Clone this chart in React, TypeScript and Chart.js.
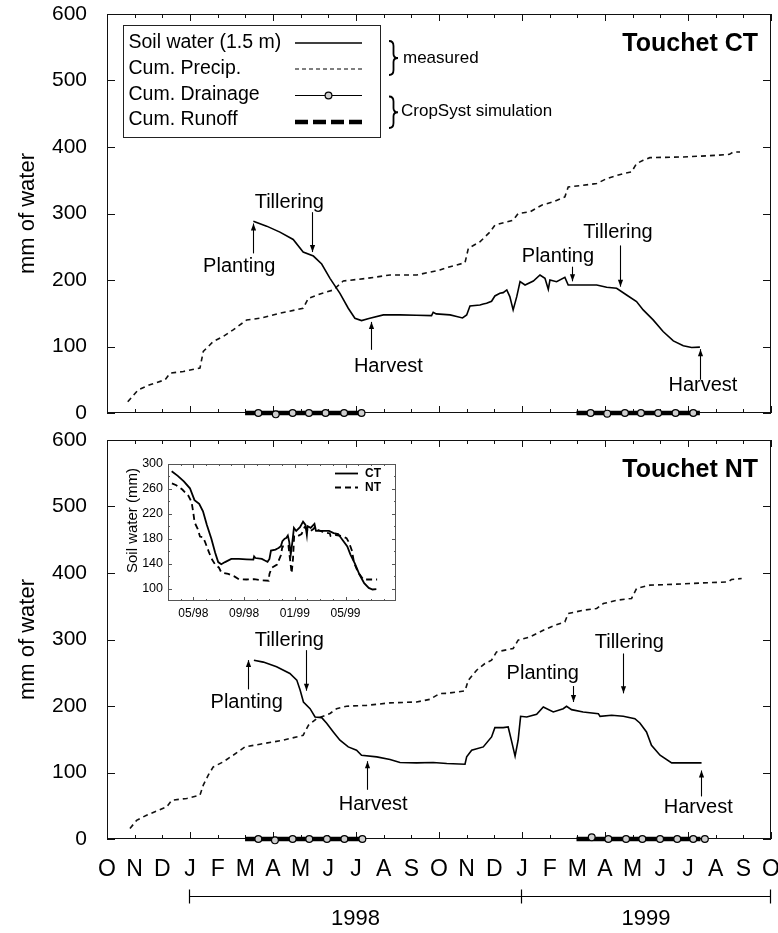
import React, { useEffect, useRef } from 'react';
import { Chart, registerables } from 'chart.js';

Chart.register(...registerables);

const FONT = '"Liberation Sans", Arial, Helvetica, sans-serif';
const W = 778;

// x values are months since 1 October 1997
const monthLetters = ['O', 'N', 'D', 'J', 'F', 'M', 'A', 'M', 'J', 'J', 'A', 'S', 'O', 'N', 'D', 'J', 'F', 'M', 'A', 'M', 'J', 'J', 'A', 'S', 'O'];
const yearLabels = ['1998', '1999'];
const yearStartMonths = [3, 15, 24];
const mainYTicks = [0, 100, 200, 300, 400, 500, 600];

// ---- Touchet CT ----
const ctSoilMonths = [5.29, 5.77, 6.25, 6.73, 7.09, 7.46, 7.76, 8.06, 8.42, 8.72, 8.96, 9.2, 9.5, 9.99, 10.59, 11.19, 11.73, 11.79, 11.9, 12.4, 12.64, 12.85, 13.0, 13.12, 13.48, 13.6, 13.72, 13.9, 14.02, 14.2, 14.32, 14.45, 14.56, 14.68, 14.81, 14.93, 15.11, 15.41, 15.65, 15.83, 15.95, 16.01, 16.25, 16.55, 16.67, 16.97, 17.7, 18.06, 18.42, 18.78, 19.14, 19.38, 19.74, 20.1, 20.47, 20.83, 21.13, 21.43];
const ctSoilValues = [288.5, 281, 272, 261, 242, 236, 224, 202.5, 180, 157.5, 142.5, 139, 142.5, 147.5, 147.5, 147, 146.5, 151.5, 149, 147.5, 145, 143, 147.5, 161, 162.5, 164, 165, 168, 176, 180, 181, 185, 175, 155, 175, 197.5, 192.5, 198.5, 207.5, 202.5, 186, 200, 197.5, 204, 192.5, 192.5, 192.5, 189, 187.5, 177.5, 167.5, 155, 140, 122.5, 108.5, 101, 98.5, 99];
const ctPrecipMonths = [0.75, 1.13, 1.55, 2.1, 2.28, 2.76, 3.36, 3.48, 3.84, 4.2, 4.56, 5.05, 5.53, 6.25, 7.09, 7.28, 7.7, 8.18, 8.54, 9.39, 10.23, 11.19, 12.03, 12.4, 12.94, 13.06, 13.48, 13.84, 14.02, 14.68, 14.86, 15.29, 15.71, 16.13, 16.55, 16.67, 17.21, 17.7, 18.06, 18.66, 18.96, 19.14, 19.38, 19.62, 20.83, 22.03, 22.5, 22.64, 22.88];
const ctPrecipValues = [17, 35, 42.5, 50, 60, 62.5, 67.5, 92.5, 107.5, 115, 125, 140, 142.5, 150, 157.5, 172.5, 179, 185, 198.5, 202.5, 207.5, 207.5, 215, 220, 226, 247.5, 257.5, 272, 282.5, 290, 300, 302.5, 312.5, 317.5, 325, 340, 342.5, 345, 352.5, 360, 362.5, 375, 380, 384, 385, 387.5, 389, 392.5, 392.5];
const ctDrain98Months = [5.47, 6.1, 6.71, 7.3, 7.9, 8.57, 9.2];
const ctDrain98Values = [0, -2, 0, 0, 0, 0, 0];
const ctDrain99Months = [17.48, 18.08, 18.72, 19.3, 19.92, 20.55, 21.19];
const ctDrain99Values = [0, -1, 0, 0, 0, 0, 0];
const ctRunoff98Months = [4.99, 9.2];
const ctRunoff99Months = [16.97, 21.43];
const runoffValues = [0, 0];

const noteLabels = ['Planting', 'Tillering', 'Harvest', 'Planting', 'Tillering', 'Harvest'];
const ctNoteTextMonth = [4.78, 6.59, 10.17, 16.3, 18.47, 21.54];
const ctNoteTextValue = [221, 317, 70, 235, 272, 42];
const ctArrowMonth = [5.29, 7.4, 9.53, 16.79, 18.54, 21.43];
const ctArrowFrom = [240, 302, 95, 220, 252, 50];
const ctArrowTo = [285, 242, 137, 198, 190, 96];

// ---- Touchet NT ----
const ntSoilMonths = [5.31, 5.65, 6.13, 6.61, 6.86, 6.98, 7.1, 7.34, 7.52, 7.76, 7.94, 8.18, 8.42, 8.72, 9.02, 9.2, 9.75, 10.23, 10.59, 11.19, 11.79, 12.28, 12.94, 13.0, 13.18, 13.6, 13.9, 14.02, 14.32, 14.5, 14.63, 14.75, 14.86, 14.95, 15.17, 15.53, 15.77, 16.13, 16.49, 16.61, 16.79, 17.21, 17.76, 17.82, 18.24, 18.66, 19.08, 19.26, 19.5, 19.68, 19.99, 20.41, 21.49];
const ntSoilValues = [268.9, 266, 259, 249, 239, 224, 206, 196, 183.5, 182.5, 174, 161, 148.5, 138.5, 133.5, 126, 123.5, 119.5, 115, 114.5, 115, 113.5, 112.5, 123.5, 133.5, 138.5, 153.5, 167.5, 167.5, 168.5, 146, 124.5, 148.5, 184.5, 183.5, 187.5, 198.5, 191, 196, 199.5, 194.5, 191, 188.5, 184.5, 186, 184.5, 181, 174.5, 161, 141, 126, 114.5, 114.5];
const ntPrecipMonths = [0.83, 1.07, 1.43, 1.85, 2.16, 2.34, 2.88, 3.36, 3.48, 3.66, 3.84, 4.2, 4.56, 4.99, 5.53, 6.37, 7.09, 7.28, 7.58, 8.06, 8.3, 8.66, 9.39, 10.23, 11.19, 11.67, 12.03, 12.28, 12.94, 13.06, 13.36, 13.66, 13.9, 14.08, 14.68, 14.86, 15.29, 15.77, 16.19, 16.55, 16.67, 17.21, 17.7, 17.94, 18.42, 18.96, 19.14, 19.62, 20.59, 21.55, 22.45, 22.57, 22.94];
const ntPrecipValues = [15.8, 28, 35.8, 43, 48.3, 58.3, 61, 66, 81, 96, 108.4, 116, 126, 138.5, 142.6, 148.6, 156, 171, 181, 188.7, 196, 199.7, 201, 204.7, 206, 210, 218.8, 219, 222.7, 238.8, 253.8, 263.9, 268.9, 281.4, 286.5, 299, 303.9, 314, 321.5, 326.5, 339, 344, 346.6, 354, 359, 361.7, 376.7, 381.7, 383.2, 385.1, 386.6, 390.2, 391.7];
const ntDrain98Months = [5.47, 6.07, 6.71, 7.31, 7.95, 8.58, 9.23];
const ntDrain98Values = [0, -2, 0, 0, 0, 0, 0];
const ntDrain99Months = [17.52, 18.12, 18.76, 19.35, 19.99, 20.61, 21.19, 21.61];
const ntDrain99Values = [2.5, 0, 0, 0, 0, 0, 0, 0];
const ntRunoff98Months = [4.99, 9.23];
const ntRunoff99Months = [16.97, 21.45];

const ntNoteTextMonth = [5.05, 6.59, 9.62, 15.75, 18.88, 21.37];
const ntNoteTextValue = [205, 299, 52, 249, 296, 48];
const ntArrowMonth = [5.11, 7.18, 9.39, 16.83, 18.66, 21.46];
const ntArrowFrom = [225, 284, 74, 230, 279, 64];
const ntArrowTo = [269, 223, 117, 206, 219, 103];

// ---- Inset ----
const insetTickMonths = [7, 11, 15, 19];
const insetTickLabels = ['05/98', '09/98', '01/99', '05/99'];
const insetYTicks = [100, 140, 180, 220, 260, 300];

const toPoints = (xs: number[], ys: number[]) => xs.map((x, i) => ({ x, y: ys[i] }));

type PanelSpec = {
  name: string;
  canvasTop: number;
  canvasHeight: number;
  padTop: number;
  xAxisHeight: number;
  showMonths: boolean;
  title: string;
  legend: boolean;
  years: boolean;
  soil: [number[], number[]];
  precip: [number[], number[]];
  drains: [number[], number[]][];
  runoffs: number[][];
  noteTextMonth: number[];
  noteTextValue: number[];
  arrowMonth: number[];
  arrowFrom: number[];
  arrowTo: number[];
};

const topSpec: PanelSpec = {
  name: 'ct', canvasTop: 0, canvasHeight: 427, padTop: 14, xAxisHeight: 14, showMonths: false,
  title: 'Touchet CT', legend: true, years: false,
  soil: [ctSoilMonths, ctSoilValues], precip: [ctPrecipMonths, ctPrecipValues],
  drains: [[ctDrain98Months, ctDrain98Values], [ctDrain99Months, ctDrain99Values]],
  runoffs: [ctRunoff98Months, ctRunoff99Months],
  noteTextMonth: ctNoteTextMonth, noteTextValue: ctNoteTextValue,
  arrowMonth: ctArrowMonth, arrowFrom: ctArrowFrom, arrowTo: ctArrowTo,
};

const bottomSpec: PanelSpec = {
  name: 'nt', canvasTop: 427, canvasHeight: 506, padTop: 13, xAxisHeight: 94, showMonths: true,
  title: 'Touchet NT', legend: false, years: true,
  soil: [ntSoilMonths, ntSoilValues], precip: [ntPrecipMonths, ntPrecipValues],
  drains: [[ntDrain98Months, ntDrain98Values], [ntDrain99Months, ntDrain99Values]],
  runoffs: [ntRunoff98Months, ntRunoff99Months],
  noteTextMonth: ntNoteTextMonth, noteTextValue: ntNoteTextValue,
  arrowMonth: ntArrowMonth, arrowFrom: ntArrowFrom, arrowTo: ntArrowTo,
};

function buildDatasets(spec: PanelSpec) {
  const ds: any[] = [];
  spec.drains.forEach(([xs, ys]) =>
    ds.push({
      data: toPoints(xs, ys), borderColor: '#000', borderWidth: 1.2, pointRadius: 3.4,
      pointBackgroundColor: '#cfcfcf', pointBorderColor: '#000', pointBorderWidth: 1.2,
      clip: false, order: 0, tension: 0,
    })
  );
  spec.runoffs.forEach((xs) =>
    ds.push({
      data: toPoints(xs, runoffValues), borderColor: '#000', borderWidth: 4.5, pointRadius: 0,
      borderCapStyle: 'butt', clip: false, order: 1,
    })
  );
  ds.push({ data: toPoints(spec.soil[0], spec.soil[1]), borderColor: '#000', borderWidth: 1.6, pointRadius: 0, order: 2, tension: 0 });
  ds.push({ data: toPoints(spec.precip[0], spec.precip[1]), borderColor: '#111', borderWidth: 1.6, borderDash: [5, 4], pointRadius: 0, order: 3, tension: 0 });
  return ds;
}

function line(ctx: CanvasRenderingContext2D, x0: number, y0: number, x1: number, y1: number) {
  ctx.beginPath();
  ctx.moveTo(x0, y0);
  ctx.lineTo(x1, y1);
  ctx.stroke();
}

function brace(ctx: CanvasRenderingContext2D, x: number, y0: number, y1: number) {
  const w = 9;
  const mid = (y0 + y1) / 2;
  const xm = x + w * 0.5;
  ctx.beginPath();
  ctx.moveTo(x, y0);
  ctx.quadraticCurveTo(xm, y0, xm, y0 + 5);
  ctx.lineTo(xm, mid - 4);
  ctx.quadraticCurveTo(xm, mid, x + w, mid);
  ctx.quadraticCurveTo(xm, mid, xm, mid + 4);
  ctx.lineTo(xm, y1 - 5);
  ctx.quadraticCurveTo(xm, y1, x, y1);
  ctx.stroke();
}

function panelPlugin(spec: PanelSpec) {
  return {
    id: 'panelDecor',
    beforeDatasetsDraw(chart: any) {
      const { ctx, chartArea: a, scales } = chart;
      const xs = scales.x;
      const ys = scales.y;
      ctx.save();
      ctx.strokeStyle = '#111';
      ctx.lineWidth = 1;
      ctx.strokeRect(a.left + 0.5, a.top + 0.5, a.right - a.left - 1, a.bottom - a.top - 1);
      monthLetters.forEach((_, i) => {
        const px = Math.round(xs.getPixelForValue(i)) + 0.5;
        const len = i % 3 === 0 ? 7 : 4;
        line(ctx, px, a.bottom, px, a.bottom - len);
        line(ctx, px, a.top, px, a.top + len);
      });
      mainYTicks.forEach((v) => {
        const py = Math.round(ys.getPixelForValue(v)) + 0.5;
        line(ctx, a.left, py, a.left + 8, py);
        line(ctx, a.right, py, a.right - 8, py);
      });
      ctx.restore();
    },
    afterDatasetsDraw(chart: any) {
      const { ctx, chartArea: a, scales } = chart;
      const xs = scales.x;
      const ys = scales.y;
      ctx.save();
      ctx.fillStyle = '#000';
      ctx.strokeStyle = '#000';
      ctx.font = `20px ${FONT}`;
      ctx.textAlign = 'center';
      ctx.textBaseline = 'middle';
      noteLabels.forEach((t, i) => {
        ctx.fillText(t, xs.getPixelForValue(spec.noteTextMonth[i]), ys.getPixelForValue(spec.noteTextValue[i]));
        const ax = Math.round(xs.getPixelForValue(spec.arrowMonth[i])) + 0.5;
        const y0 = ys.getPixelForValue(spec.arrowFrom[i]);
        const y1 = ys.getPixelForValue(spec.arrowTo[i]);
        ctx.lineWidth = 1.1;
        line(ctx, ax, y0, ax, y1);
        const dir = y1 > y0 ? 1 : -1;
        ctx.beginPath();
        ctx.moveTo(ax, y1);
        ctx.lineTo(ax - 2.6, y1 - dir * 7);
        ctx.lineTo(ax + 2.6, y1 - dir * 7);
        ctx.closePath();
        ctx.fill();
      });
      ctx.font = `bold 25px ${FONT}`;
      ctx.textAlign = 'right';
      ctx.fillText(spec.title, a.right - 13, a.top + 30);

      if (spec.legend) {
        const bx = a.left + 16;
        const by = a.top + 11;
        const bw = 257;
        const bh = 112;
        ctx.lineWidth = 1;
        ctx.strokeStyle = '#222';
        ctx.strokeRect(bx + 0.5, by + 0.5, bw, bh);
        const rows = [by + 18, by + 44, by + 69.5, by + 95];
        const names = ['Soil water (1.5 m)', 'Cum. Precip.', 'Cum. Drainage', 'Cum. Runoff'];
        ctx.font = `19.5px ${FONT}`;
        ctx.textAlign = 'left';
        ctx.fillStyle = '#000';
        names.forEach((n, i) => ctx.fillText(n, bx + 5.5, rows[i]));
        const lx0 = bx + 172;
        const lx1 = bx + 239;
        ctx.strokeStyle = '#000';
        ctx.lineWidth = 1.6;
        line(ctx, lx0, rows[0], lx1, rows[0]);
        ctx.setLineDash([4, 3]);
        ctx.lineWidth = 1.1;
        line(ctx, lx0, rows[1], lx1, rows[1]);
        ctx.setLineDash([]);
        ctx.lineWidth = 1.2;
        line(ctx, lx0, rows[2] + 1, lx1, rows[2] + 1);
        ctx.beginPath();
        ctx.arc((lx0 + lx1) / 2, rows[2] + 1, 3.4, 0, Math.PI * 2);
        ctx.fillStyle = '#cfcfcf';
        ctx.fill();
        ctx.stroke();
        ctx.fillStyle = '#000';
        ctx.setLineDash([13, 5]);
        ctx.lineWidth = 4.5;
        ctx.lineCap = 'butt';
        line(ctx, lx0, rows[3] + 2, lx1, rows[3] + 2);
        ctx.setLineDash([]);
        ctx.lineWidth = 1.8;
        brace(ctx, bx + bw + 9, rows[0] - 2, rows[1] + 6);
        brace(ctx, bx + bw + 9, rows[2] + 2, rows[3] + 8);
        ctx.font = `17px ${FONT}`;
        ctx.fillText('measured', bx + bw + 23, (rows[0] + rows[1]) / 2 + 2);
        ctx.fillText('CropSyst simulation', bx + bw + 21, (rows[2] + rows[3]) / 2 + 4);
      }

      if (spec.years) {
        const yb = a.bottom + 57.5;
        const px = yearStartMonths.map((m) => Math.round(xs.getPixelForValue(m)) - 0.5);
        ctx.strokeStyle = '#000';
        ctx.lineWidth = 1.2;
        line(ctx, px[0], yb, px[px.length - 1], yb);
        px.forEach((p) => line(ctx, p, yb - 7, p, yb + 7));
        ctx.font = `22px ${FONT}`;
        ctx.textAlign = 'center';
        yearLabels.forEach((t, i) => ctx.fillText(t, (px[i] + px[i + 1]) / 2, a.bottom + 80));
      }
      ctx.restore();
    },
  };
}

function Panel({ spec }: { spec: PanelSpec }) {
  const ref = useRef<HTMLCanvasElement>(null);
  useEffect(() => {
    const chart = new Chart(ref.current as HTMLCanvasElement, {
      type: 'line',
      data: { datasets: buildDatasets(spec) },
      options: {
        animation: false,
        responsive: false,
        maintainAspectRatio: false,
        devicePixelRatio: 1,
        layout: { padding: { top: spec.padTop, right: 7, left: 0, bottom: 0 } },
        plugins: { legend: { display: false }, tooltip: { enabled: false } },
        scales: {
          x: {
            type: 'linear',
            min: 0,
            max: 24,
            grid: { display: false, drawTicks: false },
            border: { display: false },
            afterBuildTicks: (s: any) => {
              s.ticks = monthLetters.map((_, i) => ({ value: i }));
            },
            ticks: {
              display: spec.showMonths,
              autoSkip: false,
              maxRotation: 0,
              padding: 17,
              color: '#000',
              font: { family: FONT, size: 23 },
              callback: (v: any) => monthLetters[Number(v)] ?? '',
            },
            afterFit: (s: any) => {
              s.height = spec.xAxisHeight;
              s.paddingLeft = 0;
              s.paddingRight = 0;
            },
          },
          y: {
            type: 'linear',
            min: 0,
            max: 600,
            grid: { display: false, drawTicks: false },
            border: { display: false },
            afterBuildTicks: (s: any) => {
              s.ticks = mainYTicks.map((v) => ({ value: v }));
            },
            ticks: { padding: 20, color: '#000', font: { family: FONT, size: 21 } },
            title: {
              display: true,
              text: 'mm of water',
              color: '#000',
              font: { family: FONT, size: 22 },
              padding: { top: 15, bottom: 0 },
            },
            afterFit: (s: any) => {
              s.width = 107;
              s.paddingTop = 0;
              s.paddingBottom = 0;
            },
          },
        },
      } as any,
      plugins: [panelPlugin(spec)],
    });
    return () => chart.destroy();
  }, []);
  return (
    <canvas
      ref={ref}
      width={W}
      height={spec.canvasHeight}
      style={{ position: 'absolute', left: 0, top: spec.canvasTop, width: W, height: spec.canvasHeight, display: 'block' }}
    />
  );
}

const insetPlugin = {
  id: 'insetDecor',
  beforeDatasetsDraw(chart: any) {
    const { ctx, chartArea: a, scales } = chart;
    const xs = scales.x;
    const ys = scales.y;
    ctx.save();
    ctx.strokeStyle = '#555';
    ctx.lineWidth = 1;
    ctx.strokeRect(a.left + 0.5, a.top + 0.5, a.right - a.left - 1, a.bottom - a.top - 1);
    for (let v = 100; v < 300; v += 20) {
      const py = Math.round(ys.getPixelForValue(v)) + 0.5;
      const len = insetYTicks.includes(v) ? 4 : 2;
      line(ctx, a.left, py, a.left + len, py);
      line(ctx, a.right, py, a.right - len, py);
    }
    for (let m = 6; m <= 22; m++) {
      const px = Math.round(xs.getPixelForValue(m)) + 0.5;
      const len = insetTickMonths.includes(m) ? 4 : 2;
      line(ctx, px, a.bottom, px, a.bottom - len);
      line(ctx, px, a.top, px, a.top + len);
    }
    // y-axis title
    ctx.fillStyle = '#000';
    ctx.font = `15px ${FONT}`;
    ctx.textAlign = 'center';
    ctx.textBaseline = 'middle';
    ctx.translate(a.left - 35, (a.top + a.bottom) / 2 - 12);
    ctx.rotate(-Math.PI / 2);
    ctx.fillText('Soil water (mm)', 0, 0);
    ctx.restore();
  },
  afterDatasetsDraw(chart: any) {
    const { ctx, chartArea: a } = chart;
    ctx.save();
    ctx.strokeStyle = '#000';
    ctx.lineWidth = 1.8;
    const y1 = a.top + 9.5;
    const y2 = a.top + 23.5;
    line(ctx, a.right - 61, y1, a.right - 38, y1);
    ctx.setLineDash([6, 4]);
    line(ctx, a.right - 61, y2, a.right - 38, y2);
    ctx.setLineDash([]);
    ctx.fillStyle = '#000';
    ctx.font = `bold 12px ${FONT}`;
    ctx.textAlign = 'left';
    ctx.textBaseline = 'middle';
    ctx.fillText('CT', a.right - 31, y1);
    ctx.fillText('NT', a.right - 31, y2);
    ctx.restore();
  },
};

function Inset() {
  const ref = useRef<HTMLCanvasElement>(null);
  useEffect(() => {
    const chart = new Chart(ref.current as HTMLCanvasElement, {
      type: 'line',
      data: {
        datasets: [
          { data: toPoints(ctSoilMonths, ctSoilValues), borderColor: '#000', borderWidth: 1.8, pointRadius: 0, tension: 0 },
          { data: toPoints(ntSoilMonths, ntSoilValues), borderColor: '#000', borderWidth: 1.8, borderDash: [6, 4], pointRadius: 0, tension: 0 },
        ],
      },
      options: {
        animation: false,
        responsive: false,
        maintainAspectRatio: false,
        devicePixelRatio: 1,
        layout: { padding: { top: 9, right: 9, left: 0, bottom: 0 } },
        plugins: { legend: { display: false }, tooltip: { enabled: false } },
        scales: {
          x: {
            type: 'linear',
            min: 5.0,
            max: 22.98,
            grid: { display: false, drawTicks: false },
            border: { display: false },
            afterBuildTicks: (s: any) => {
              s.ticks = insetTickMonths.map((v) => ({ value: v }));
            },
            ticks: {
              autoSkip: false,
              maxRotation: 0,
              padding: 5,
              color: '#000',
              font: { family: FONT, size: 12 },
              callback: (v: any) => insetTickLabels[insetTickMonths.indexOf(Number(v))] ?? '',
            },
            afterFit: (s: any) => {
              s.height = 29;
              s.paddingLeft = 0;
              s.paddingRight = 0;
            },
          },
          y: {
            type: 'linear',
            min: 80,
            max: 300,
            grid: { display: false, drawTicks: false },
            border: { display: false },
            afterBuildTicks: (s: any) => {
              s.ticks = insetYTicks.map((v) => ({ value: v }));
            },
            ticks: { padding: 5, color: '#000', font: { family: FONT, size: 12.5 } },
            afterFit: (s: any) => {
              s.width = 68;
              s.paddingTop = 0;
              s.paddingBottom = 0;
            },
          },
        },
      } as any,
      plugins: [insetPlugin],
    });
    return () => chart.destroy();
  }, []);
  return (
    <canvas
      ref={ref}
      width={305}
      height={175}
      style={{ position: 'absolute', left: 100, top: 455, width: 305, height: 175, display: 'block' }}
    />
  );
}

export default function App() {
  return (
    <div style={{ position: 'absolute', left: 0, top: 0, width: W, height: 933, background: '#fff', overflow: 'hidden' }}>
      <Panel spec={topSpec} />
      <Panel spec={bottomSpec} />
      <Inset />
    </div>
  );
}
